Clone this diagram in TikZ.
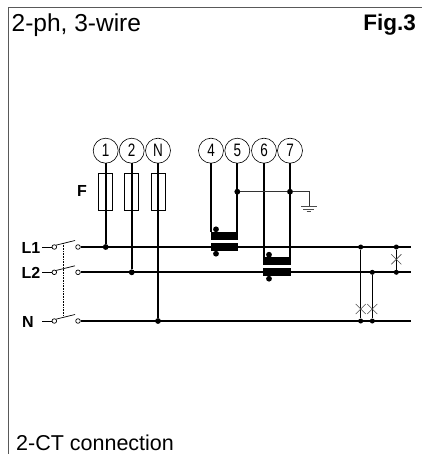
\documentclass[tikz,border=0pt]{standalone}
\usepackage{fontspec}
\setmainfont{Liberation Sans}
\usetikzlibrary{positioning,%
  calc%
}

\tikzset{
  wire/.style={line width=1.7pt},
  thinwire/.style={line width=.9pt,black!80},
  jump/.style={line width=1.2pt},
  frameline/.style={line width=1pt,black!65},
  mark cross/.style={line width=.6pt,black!70},
  terminal/.style={circle,draw,line width=.6pt,fill=white,minimum size=25pt,inner sep=0pt,font=\fontsize{18}{18}\selectfont},
  joint/.style={circle,fill=black,minimum size=5.8pt,inner sep=0pt},
  contact/.style={circle,draw,line width=.7pt,fill=white,minimum size=4.6pt,inner sep=0pt},
  fuse/.style={draw,line width=1pt,fill=none,minimum width=14pt,minimum height=37pt,inner sep=0pt},
  ctbar/.style={fill=black,minimum width=27.4pt,minimum height=8pt,inner sep=0pt},
  title/.style={anchor=base west,font=\fontsize{21.5}{22}\selectfont,inner sep=0pt},
  tag/.style={font=\bfseries\fontsize{16}{16}\selectfont,inner sep=0pt}
}

\begin{document}
\begin{tikzpicture}[x=1pt,y=-1pt]
  \useasboundingbox (0,0) rectangle (422,454);

  % frame
  \coordinate (topleft) at (8,8);
  \coordinate (topright) at (422,8);
  \coordinate (botleft) at (8,454);
  \draw [frameline] (botleft) -- (topleft) -- (topright);

  \node [title,font=\fontsize{24.5}{25}\selectfont] (heading) at (11.5,31.7) {2-ph, 3-wire};
  \node [title,anchor=base east,font=\bfseries\fontsize{22.5}{23}\selectfont] (figno) at (416,31) {Fig.3};
  \node [title] (footing) at (16,450) {2-CT connection};

  % terminals
  \foreach \name/\xpos in {1/105.7,2/131.7,N/158,4/211,5/237.3,6/264,7/290}
    \node [terminal] (t\name) at (\xpos,150.7) {\scalebox{.75}[1]{\name}};

  \node [tag] (ftag) at (82,191) {F};

  % lines
  \node [tag] (l1tag) at (31,247.5) {L1};
  \node [tag] (l2tag) at (31,273) {L2};
  \node [tag] (ntag) at (28,322) {N};
  \foreach \name/\ypos in {a/247,b/272.3,c/321}{
    \coordinate (in\name) at (42,\ypos);
    \coordinate (end\name) at (410.7,\ypos);
    \node [contact] (p\name) at (54.3,\ypos) {};
    \node [contact] (q\name) at (78,\ypos) {};
    \coordinate (blade\name) at (75,\ypos-6.5);
    \draw [line width=.8pt] (in\name) -- (p\name);
    \draw [line width=.7pt] (p\name.north east) -- (blade\name);
    \draw [wire] (q\name) -- (end\name);
  }
  \coordinate (linktop) at (63.3,243);
  \coordinate (linkbot) at (63.3,316);
  \draw [densely dotted,line width=.6pt] (linktop) -- (linkbot);

  % fuses
  \foreach \name/\ln in {1/a,2/b,N/c}{
    \node [joint] (j\name) at (t\name |- q\ln) {};
    \node [fuse] (f\name) at ($(t\name)+(0,41.3)$) {};
    \draw [wire] (t\name) -- (j\name);
  }

  % current transformers
  \node [ctbar] (ctaup) at (224.2,236.3) {};
  \node [ctbar] (ctalow) at (224.2,246.8) {};
  \node [joint] (ctadota) at (216,229.3) {};
  \node [joint] (ctadotb) at (216,253.7) {};
  \node [ctbar] (ctbup) at (277,261.3) {};
  \node [ctbar] (ctblow) at (277,272) {};
  \node [joint] (ctbdota) at (269,254.7) {};
  \node [joint] (ctbdotb) at (269,278.7) {};
  \draw [wire] (t4) -- (t4 |- ctaup.north);
  \draw [wire] (t5) -- (t5 |- ctaup.north);
  \draw [wire] (t6) -- (t6 |- ctbup.north);
  \draw [wire] (t7) -- (t7 |- ctbup.north);

  % earth
  \node [joint] (e5) at (237.3,191.7) {};
  \node [joint] (e7) at (290,191.7) {};
  \coordinate (ecorner) at (309,191.7);
  \coordinate (etop) at (309,206);
  \draw [thinwire] (e5) -- (e7) -- (ecorner) -- (etop);
  \draw [line width=.7pt,black!70] (301,206) -- (316.7,206);
  \draw [line width=.7pt,black!70] (303.3,208.9) -- (314,208.9);
  \draw [line width=.7pt,black!70] (306.7,211.8) -- (311.3,211.8);

  % links
  \foreach \name/\xpos/\from/\to/\ypos in {u/360.7/a/c/309,v/372.3/b/c/309,w/396.3/a/b/259.3}{
    \node [joint,minimum size=5pt] (s\name) at (\xpos,0 |- q\from) {};
    \node [joint,minimum size=5pt] (d\name) at (\xpos,0 |- q\to) {};
    \draw [jump] (s\name) -- (d\name);
    \draw [mark cross] (\xpos-5,\ypos-5) -- (\xpos+5,\ypos+5);
    \draw [mark cross] (\xpos-5,\ypos+5) -- (\xpos+5,\ypos-5);
  }
\end{tikzpicture}
\end{document}
